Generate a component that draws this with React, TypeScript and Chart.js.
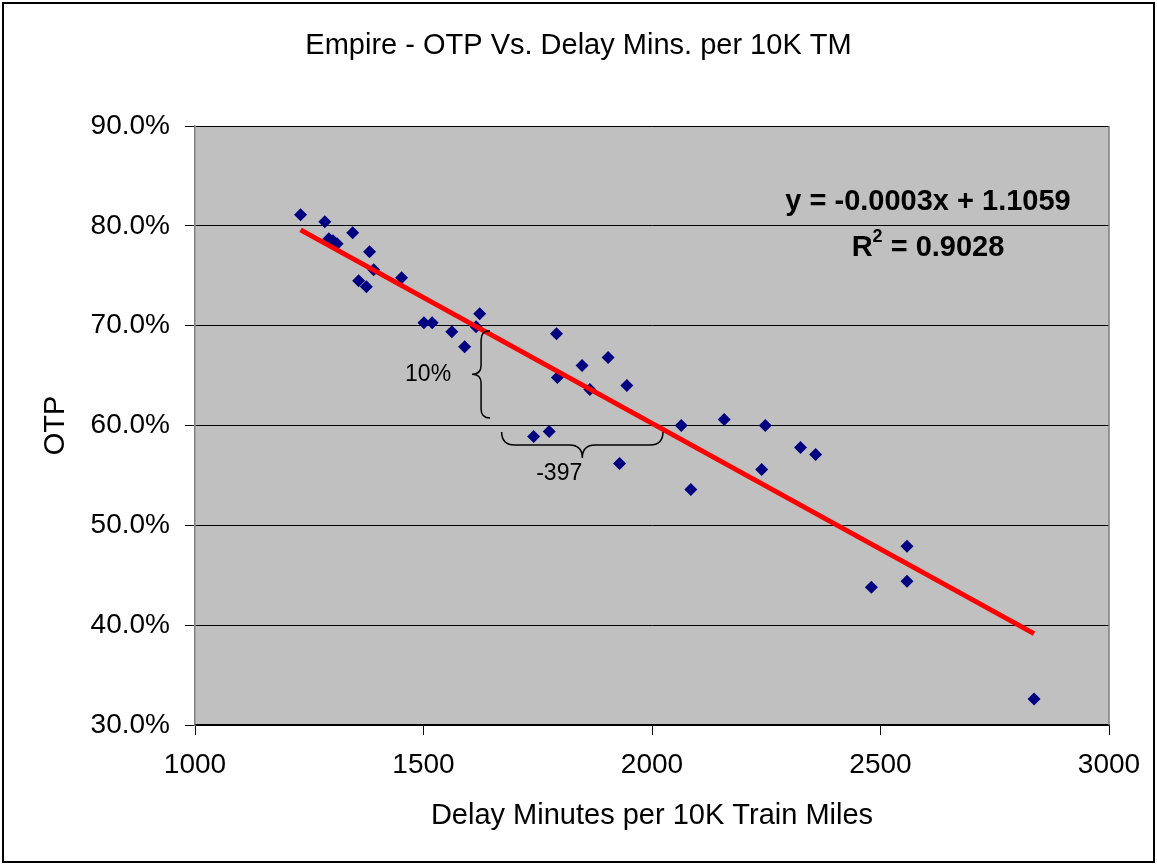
import React, { useEffect, useRef } from 'react';
import { Chart, registerables } from 'chart.js';

Chart.register(...registerables);

// ---- Data ----
const delayMinutes = [
  1231, 1284, 1293, 1302, 1311, 1345, 1382, 1391, 1358, 1375, 1452, 1501, 1519,
  1562, 1590, 1623, 1615, 1791, 1847, 1904, 1793, 1864, 1945, 1741, 1775, 1929,
  2064, 2085, 2158, 2248, 2325, 2358, 2240, 2558, 2558, 2480, 2836,
];
const otp = [
  0.811, 0.804, 0.787, 0.785, 0.782, 0.793, 0.774, 0.756, 0.745, 0.739, 0.748, 0.703, 0.703,
  0.694, 0.679, 0.712, 0.699, 0.692, 0.66, 0.668, 0.648, 0.636, 0.64, 0.589, 0.594, 0.562,
  0.6, 0.536, 0.606, 0.6, 0.578, 0.571, 0.556, 0.479, 0.444, 0.438, 0.326,
];
const xTicks = [1000, 1500, 2000, 2500, 3000];
const yTicks = [0.3, 0.4, 0.5, 0.6, 0.7, 0.8, 0.9];

const titleText = 'Empire - OTP Vs. Delay Mins. per 10K TM';
const xTitle = 'Delay Minutes per 10K Train Miles';
const yTitle = 'OTP';
const equationText = 'y = -0.0003x + 1.1059';
const r2Value = ' = 0.9028';
const braceYLabel = '10%';
const braceXLabel = '-397';

// annotation anchors in data units
const eqAnchor = { x: 2604, y: 0.824 };
const r2Anchor = { x: 2604, y: 0.778 };
const vBrace = { x: 1626, y1: 0.695, y2: 0.6075 };
const hBrace = { x1: 1671, x2: 2024, y: 0.5805 };
const vBraceLabel = { x: 1510, y: 0.6505 };
const hBraceLabel = { x: 1797, y: 0.552 };

// linear regression through the points
function regression(xs: number[], ys: number[]) {
  const n = xs.length;
  let sx = 0, sy = 0, sxx = 0, sxy = 0;
  for (let i = 0; i < n; i++) {
    sx += xs[i]; sy += ys[i]; sxx += xs[i] * xs[i]; sxy += xs[i] * ys[i];
  }
  const slope = (n * sxy - sx * sy) / (n * sxx - sx * sx);
  const intercept = (sy - slope * sx) / n;
  return { slope, intercept };
}

const FONT = '"Liberation Sans", Arial, Helvetica, sans-serif';

export default function App() {
  const ref = useRef<HTMLCanvasElement | null>(null);

  useEffect(() => {
    if (!ref.current) return;
    const { slope, intercept } = regression(delayMinutes, otp);
    const xmin = Math.min(...delayMinutes);
    const xmax = Math.max(...delayMinutes);
    const trend = [
      { x: xmin, y: slope * xmin + intercept },
      { x: xmax, y: slope * xmax + intercept },
    ];
    const points = delayMinutes.map((x, i) => ({ x, y: otp[i] }));

    const decor = {
      id: 'decor',
      beforeDraw(chart: any) {
        const { ctx, chartArea: a } = chart;
        ctx.save();
        ctx.fillStyle = '#ffffff';
        ctx.fillRect(0, 0, chart.width, chart.height);
        ctx.fillStyle = '#c0c0c0';
        ctx.fillRect(a.left, a.top, a.right - a.left, a.bottom - a.top);
        ctx.restore();
      },
      beforeDatasetsDraw(chart: any) {
        const { ctx, chartArea: a } = chart;
        ctx.save();
        ctx.strokeStyle = '#808080';
        ctx.lineWidth = 1.5;
        ctx.beginPath();
        ctx.moveTo(a.right, a.top);
        ctx.lineTo(a.right, a.bottom);
        ctx.stroke();
        ctx.restore();
      },
      afterDraw(chart: any) {
        const { ctx } = chart;
        const xs = chart.scales.x;
        const ys = chart.scales.y;
        const px = (v: number) => xs.getPixelForValue(v);
        const py = (v: number) => ys.getPixelForValue(v);
        ctx.save();
        // outer border
        ctx.strokeStyle = '#000';
        ctx.lineWidth = 2;
        ctx.strokeRect(3, 3, chart.width - 6, chart.height - 6);

        // equation
        ctx.fillStyle = '#000';
        ctx.font = `bold 29px ${FONT}`;
        ctx.textAlign = 'center';
        ctx.textBaseline = 'middle';
        ctx.fillText(equationText, px(eqAnchor.x), py(eqAnchor.y));
        // R^2
        const rW = ctx.measureText('R').width;
        ctx.font = `bold 18px ${FONT}`;
        const sW = ctx.measureText('2').width;
        ctx.font = `bold 29px ${FONT}`;
        const vW = ctx.measureText(r2Value).width;
        const total = rW + sW + vW;
        let sx = px(r2Anchor.x) - total / 2;
        const sy = py(r2Anchor.y);
        ctx.textAlign = 'left';
        ctx.fillText('R', sx, sy);
        sx += rW;
        ctx.font = `bold 18px ${FONT}`;
        ctx.fillText('2', sx, sy - 11);
        sx += sW;
        ctx.font = `bold 29px ${FONT}`;
        ctx.fillText(r2Value, sx, sy);

        // braces
        ctx.strokeStyle = '#000';
        ctx.lineWidth = 1.5;
        // vertical brace, tip to the left
        {
          const x = px(vBrace.x);
          const y1 = py(vBrace.y1);
          const y2 = py(vBrace.y2);
          const ym = (y1 + y2) / 2;
          const r = 9;
          ctx.beginPath();
          ctx.moveTo(x + r, y1);
          ctx.quadraticCurveTo(x, y1, x, y1 + r);
          ctx.lineTo(x, ym - r);
          ctx.quadraticCurveTo(x, ym, x - r, ym);
          ctx.quadraticCurveTo(x, ym, x, ym + r);
          ctx.lineTo(x, y2 - r);
          ctx.quadraticCurveTo(x, y2, x + r, y2);
          ctx.stroke();
        }
        // horizontal brace, tip downward
        {
          const x1 = px(hBrace.x1);
          const x2 = px(hBrace.x2);
          const y = py(hBrace.y);
          const xm = (x1 + x2) / 2;
          const r = 13;
          ctx.beginPath();
          ctx.moveTo(x1, y - r);
          ctx.quadraticCurveTo(x1, y, x1 + r, y);
          ctx.lineTo(xm - r, y);
          ctx.quadraticCurveTo(xm, y, xm, y + r);
          ctx.quadraticCurveTo(xm, y, xm + r, y);
          ctx.lineTo(x2 - r, y);
          ctx.quadraticCurveTo(x2, y, x2, y - r);
          ctx.stroke();
        }
        ctx.font = `23px ${FONT}`;
        ctx.textAlign = 'center';
        ctx.textBaseline = 'middle';
        ctx.fillText(braceYLabel, px(vBraceLabel.x), py(vBraceLabel.y));
        ctx.fillText(braceXLabel, px(hBraceLabel.x), py(hBraceLabel.y));
        ctx.restore();
      },
    };

    const chart = new Chart(ref.current, {
      type: 'scatter',
      data: {
        datasets: [
          {
            type: 'line',
            label: 'Trend',
            data: trend,
            borderColor: '#ff0000',
            borderWidth: 5,
            pointRadius: 0,
            fill: false,
            order: 0,
          } as any,
          {
            label: 'OTP',
            data: points,
            pointStyle: 'rectRot',
            pointRadius: 6.5,
            backgroundColor: '#000080',
            borderColor: '#000080',
            borderWidth: 0,
            order: 1,
          },
        ],
      },
      options: {
        responsive: false,
        animation: false,
        layout: { padding: 0 },
        plugins: {
          legend: { display: false },
          tooltip: { enabled: false },
          title: {
            display: true,
            text: titleText,
            color: '#000',
            font: { family: FONT, size: 29, weight: 'normal' },
            padding: { top: 28.6, bottom: 62.6 },
          },
        },
        scales: {
          x: {
            type: 'linear',
            min: 1000,
            max: 3000,
            afterBuildTicks: (s: any) => { s.ticks = xTicks.map((v) => ({ value: v })); },
            afterFit: (s: any) => { s.height = 140; },
            ticks: {
              color: '#000',
              font: { family: FONT, size: 28 },
              padding: 13,
              maxRotation: 0,
              callback: (v: any) => String(v),
            },
            grid: { drawOnChartArea: false, color: '#000', tickLength: 10, lineWidth: 1 },
            border: { color: '#000', width: 1.5 },
            title: {
              display: true,
              text: xTitle,
              color: '#000',
              font: { family: FONT, size: 29 },
              padding: { top: 0, bottom: 32 },
            },
          },
          y: {
            type: 'linear',
            min: 0.3,
            max: 0.9,
            afterBuildTicks: (s: any) => { s.ticks = yTicks.map((v) => ({ value: v })); },
            afterFit: (s: any) => { s.width = 195; },
            ticks: {
              color: '#000',
              font: { family: FONT, size: 28 },
              padding: 15,
              callback: (v: any) => (Number(v) * 100).toFixed(1) + '%',
            },
            grid: { color: '#000', tickLength: 10, lineWidth: 1 },
            border: { color: '#808080', width: 1.5 },
            title: {
              display: true,
              text: yTitle,
              color: '#000',
              font: { family: FONT, size: 29 },
              padding: { top: 39, bottom: 0 },
            },
          },
          yRight: {
            type: 'linear',
            position: 'right',
            min: 0.3,
            max: 0.9,
            afterFit: (s: any) => { s.width = 48; },
            ticks: { display: false },
            grid: { display: false },
            border: { display: false },
          },
        },
      },
      plugins: [decor],
    });
    return () => chart.destroy();
  }, []);

  return (
    <div style={{ position: 'absolute', left: 0, top: 0, width: 1157, height: 865 }}>
      <canvas ref={ref} width={1157} height={865} style={{ display: 'block' }} />
    </div>
  );
}
